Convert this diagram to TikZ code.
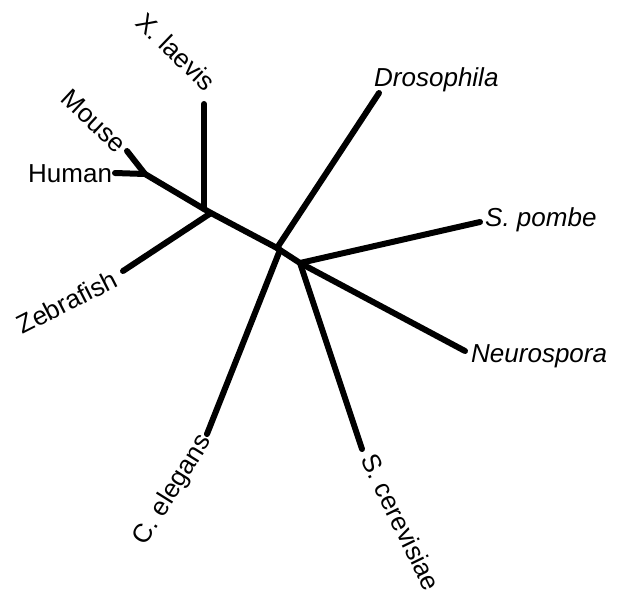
\documentclass[tikz,border=0pt]{standalone}
\usepackage{fontspec}
\setmainfont{Liberation Sans}

\begin{document}
\begin{tikzpicture}[x=1pt,y=-1pt,
  branch/.style={line width=6pt,line cap=round,line join=round},
  taxon/.style={inner sep=0pt,font=\fontsize{26}{30}\selectfont},
  taxit/.style={taxon,font=\fontsize{26}{30}\selectfont\itshape}]
  \useasboundingbox (0,0) rectangle (618,598);
  % inner forks of the tree
  \coordinate (hm) at (145,174);
  \coordinate (xl) at (204,209);
  \coordinate (vt) at (211,213);
  \coordinate (dr) at (277,248);
  \coordinate (ce) at (280,250);
  \coordinate (fg) at (300,263);
  % branch tips
  \coordinate (tHuman) at (115,173);
  \coordinate (tMouse) at (127,151);
  \coordinate (tXl) at (204,104);
  \coordinate (tZebra) at (123,271);
  \coordinate (tDros) at (379,93);
  \coordinate (tCel) at (207,434);
  \coordinate (tScer) at (362,449);
  \coordinate (tPombe) at (480,222);
  \coordinate (tNeuro) at (465,351);
  % backbone
  \draw[branch] (hm) -- (xl) -- (vt) -- (dr) -- (ce) -- (fg);
  % vertebrates
  \draw[branch] (hm) -- (tHuman);
  \draw[branch] (hm) -- (tMouse);
  \draw[branch] (xl) -- (tXl);
  \draw[branch] (vt) -- (tZebra);
  % the rest
  \draw[branch] (dr) -- (tDros);
  \draw[branch] (ce) -- (tCel);
  \draw[branch] (fg) -- (tScer);
  \draw[branch] (fg) -- (tPombe);
  \draw[branch] (fg) -- (tNeuro);
  % labels
  \node[taxon,anchor=base west] (human) at (28,182) {Human};
  \node[taxon,rotate=-43] (mouse) at (94,121) {Mouse};
  \node[taxon,rotate=-44] (xlaevis) at (176,52) {X. laevis};
  \node[taxon,rotate=27] (zebra) at (67,302) {Zebrafish};
  \node[taxon,rotate=58] (celegans) at (173,490) {C. elegans};
  \node[taxon,rotate=-64] (scer) at (401,522) {S. cerevisiae};
  \node[taxit,anchor=base west] (dros) at (374,86) {Drosophila};
  \node[taxit,anchor=base west] (pombe) at (485,226) {S. pombe};
  \node[taxit,anchor=base west] (neuro) at (471,362) {Neurospora};
\end{tikzpicture}
\end{document}
